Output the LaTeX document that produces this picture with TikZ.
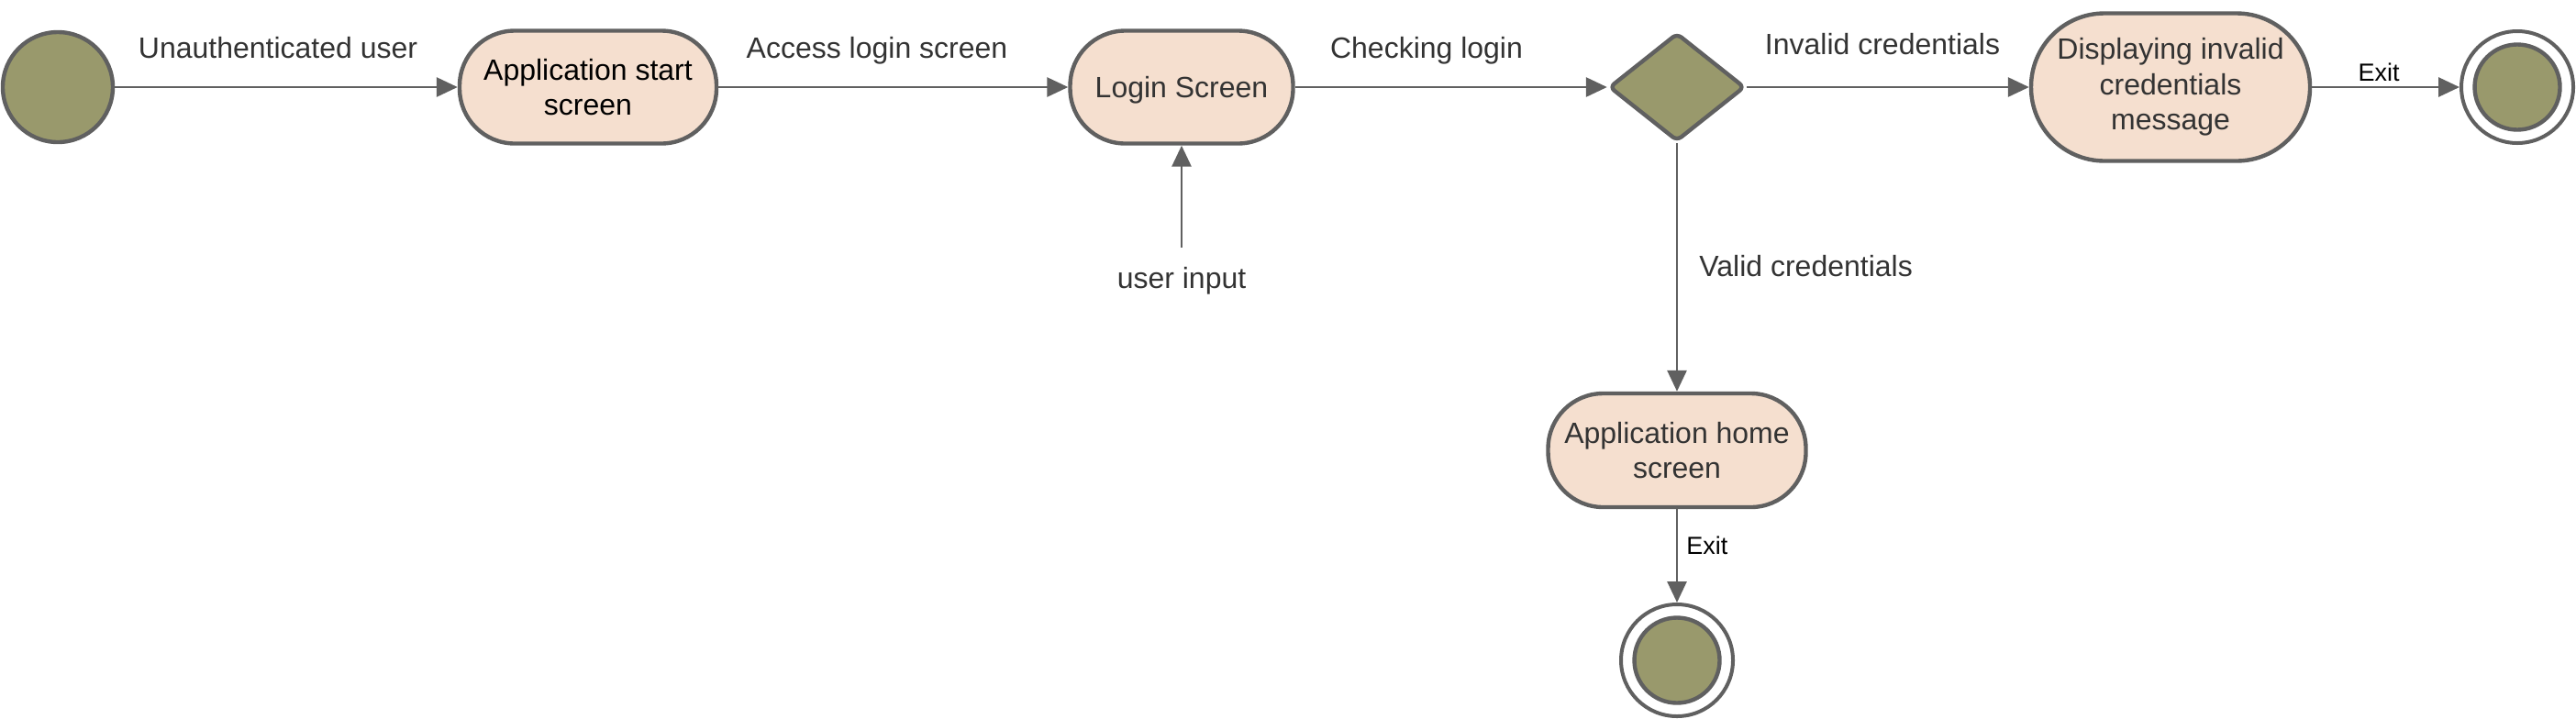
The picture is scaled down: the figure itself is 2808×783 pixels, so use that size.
\documentclass[tikz,border=0pt]{standalone}
\usepackage{fontspec}
\setmainfont{Liberation Sans}
\usetikzlibrary{shapes.geometric,arrows.meta}
\definecolor{umlgreen}{RGB}{153,153,108}
\definecolor{umlpink}{RGB}{245,223,207}
\definecolor{umlgray}{RGB}{96,96,96}
\definecolor{umltxt}{RGB}{51,51,51}
\tikzset{
  statebox/.style={draw=umlgray, line width=2.2pt, fill=umlpink, rounded corners=30pt,
    minimum height=61.5pt, align=center, inner sep=0pt,
    font=\fontsize{16}{19.2}\selectfont, text=umltxt, execute at begin node=\rule{0pt}{#1}},
  statebox/.default=15.1pt,
  startdot/.style={circle, draw=umlgray, line width=2.2pt, fill=umlgreen, minimum size=60pt, inner sep=0pt},
  endring/.style={circle, draw=umlgray, line width=2pt, fill=white, minimum size=61pt, inner sep=0pt},
  enddot/.style={circle, draw=umlgray, line width=2.2pt, fill=umlgreen, minimum size=46.5pt, inner sep=0pt},
  decision/.style={diamond, draw=umlgray, line width=2.2pt, fill=umlgreen, minimum width=74pt,
    minimum height=59pt, inner sep=0pt, rounded corners=3pt},
  flow/.style={draw=umlgray, line width=1.4pt, -{Triangle[length=11.5pt,width=10.5pt]}},
  lbl/.style={font=\fontsize{16}{18.5}\selectfont, text=umltxt, inner sep=0pt, text depth=0pt},
  exitlbl/.style={font=\fontsize{13.5}{16}\selectfont, text=black, inner sep=0pt, text depth=0pt}
}
\begin{document}
\begin{tikzpicture}[x=0.5pt,y=-0.5pt]
\useasboundingbox (0,0) rectangle (2808,783);
% nodes
\node[startdot] (start) at (63,95) {};
\node[statebox=17.8pt, minimum width=140pt, text=black] (appstart) at (641,95) {Application start\\screen};
\node[statebox, minimum width=121.5pt] (login) at (1288,95) {Login Screen};
\node[decision] (dec) at (1828,95) {};
\node[statebox=18.8pt, minimum width=152pt, minimum height=80.5pt, rounded corners=40pt] (disp) at (2366,95) {Displaying invalid\\credentials\\message};
\node[endring] (end1) at (2744,95) {};
\node[enddot] (end1in) at (2744,95) {};
\node[statebox=17.5pt, minimum width=140.5pt, minimum height=62pt] (home) at (1828,491) {Application home\\screen};
\node[endring] (end2) at (1828,720) {};
\node[enddot] (end2in) at (1828,720) {};
% labels
\node[lbl] (l1) at (303,52) {Unauthenticated user};
\node[lbl] (l2) at (956,52) {Access login screen};
\node[lbl] (l3) at (1555,52) {Checking login};
\node[lbl] (l4) at (2052,48) {Invalid credentials};
\node[lbl, anchor=west] (l5) at (1852,290) {Valid credentials};
\node[lbl] (ui) at (1288,303) {user input};
\coordinate (uistart) at (1288,270);
\node[exitlbl] (x1) at (2593,79) {Exit};
\node[exitlbl, anchor=west] (x2) at (1838,595) {Exit};
% connectors
\draw[flow] (start) -- (appstart);
\draw[flow] (appstart) -- (login);
\draw[flow] (uistart) -- (login);
\draw[flow] (login) -- (dec);
\draw[flow] (dec) -- (disp);
\draw[flow] (disp) -- (end1);
\draw[flow] (dec) -- (home);
\draw[flow] (home) -- (end2);
\end{tikzpicture}
\end{document}
